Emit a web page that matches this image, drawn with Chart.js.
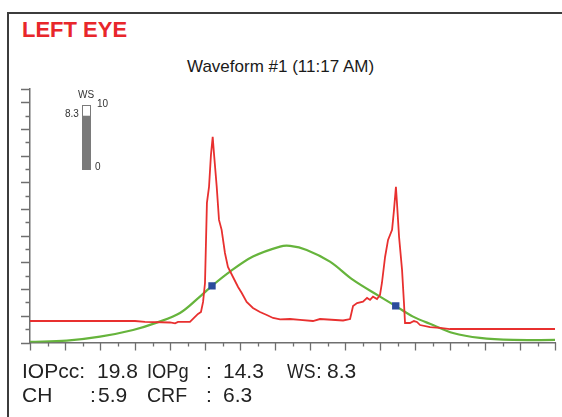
<!doctype html>
<html><head><meta charset="utf-8">
<title>Left eye waveform</title>
<script src="https://cdn.jsdelivr.net/npm/chart.js@4.4.0/dist/chart.umd.min.js"></script>
<style>
  *{box-sizing:border-box}
  body{margin:0;width:562px;height:417px;overflow:hidden;background:#fff;position:relative;
       font-family:"Liberation Sans",Arial,Helvetica,sans-serif;color:#222}
  .frame{position:absolute;left:7px;top:12px;width:600px;height:500px;border-top:2px solid #3c3c3c;border-left:2px solid #3c3c3c}
  .t{position:absolute;line-height:1;white-space:pre;transform-origin:0 50%}
  .eye{left:22px;top:19px;font-size:22px;font-weight:bold;color:#e8262b}
  .title{left:187px;top:58px;font-size:17px;color:#1a1a1a}
  .stat{font-size:21px;color:#222}
  .g{font-size:10px;color:#333}
  #main{position:absolute;left:0;top:0}
  #gauge{position:absolute;left:82px;top:105px}
</style></head><body>
<div class="frame"></div>
<div class="t eye">LEFT EYE</div>
<div class="t title">Waveform #1 (11:17 AM)</div>

<canvas id="main" width="562" height="417"></canvas>

<!-- WS gauge -->
<div class="t g" style="left:78px;top:90px">WS</div>
<div class="t g" style="left:97px;top:99px">10</div>
<div class="t g" style="left:65px;top:109px">8.3</div>
<div class="t g" style="left:95px;top:162px">0</div>
<canvas id="gauge" width="9" height="65"></canvas>

<!-- measurements -->
<div class="t stat" style="left:22px;top:360px">IOPcc:</div>
<div class="t stat" style="left:97px;top:360px">19.8</div>
<div class="t stat" style="left:147px;top:360px;transform:scaleX(.87)">IOPg</div>
<div class="t stat" style="left:206px;top:360px">:</div>
<div class="t stat" style="left:223px;top:360px">14.3</div>
<div class="t stat" style="left:287px;top:360px;transform:scaleX(.84)">WS</div>
<div class="t stat" style="left:316px;top:360px">:</div>
<div class="t stat" style="left:327px;top:360px">8.3</div>
<div class="t stat" style="left:22px;top:384px">CH</div>
<div class="t stat" style="left:90px;top:384px">:</div>
<div class="t stat" style="left:98px;top:384px">5.9</div>
<div class="t stat" style="left:147px;top:384px;transform:scaleX(.93)">CRF</div>
<div class="t stat" style="left:206px;top:384px">:</div>
<div class="t stat" style="left:223px;top:384px">6.3</div>

<script>
// applanation signal (red)
const signalT = [0, 60, 65.7, 80, 82.9, 84.6, 91.4, 93.7, 96, 97.7, 98.9, 100, 101.1, 102.3, 103.4, 104.4,
  105.1, 106.7, 108, 109.5, 111.4, 113.1, 116, 118.9, 121, 123.8, 127.4, 131.4, 135.3, 138.9, 142.9,
  148.6, 154.3, 161.7, 165.7, 178.9, 182.9, 184.6, 186.9, 190.3, 192.6, 194.3, 196, 198.3, 200,
  201.1, 202.9, 204.6, 206.9, 208, 209.1, 209.7, 210.9, 212.6, 213.7, 214.3, 217.1, 219.4, 221.1,
  222.9, 228.6, 234.3, 240, 300];
const signalV = [16.1, 16.1, 15.4, 15, 14.3, 15.4, 15.4, 18.4, 21.4, 22.9, 30.4, 44.6, 104.6, 116.6, 140.6, 154.1,
  142.1, 116.6, 91.9, 84.4, 67.1, 56.6, 49.1, 41.6, 37.1, 30.4, 25.9, 22.9, 20.6, 18.4, 17.3,
  17.6, 16.9, 16.1, 17.6, 16.5, 17.6, 27.4, 29.6, 30.6, 33.4, 31.9, 34.4, 32.6, 35.6,
  44.6, 64.1, 76.9, 84.4, 99.4, 116.6, 104.6, 79.1, 54.4, 29.6, 14.6, 14.6, 16.1, 15.4,
  13.1, 11.6, 10.9, 10.1, 10.1];

// air pulse pressure (green)
const pulseT = [0, 21, 40, 58.9, 72.4, 85.7, 97.1, 104.6, 114.3, 127.4, 142.9, 148.6, 158.1, 171.4,
  184.6, 200, 209.5, 218.9, 230.3, 241.7, 257.1, 276, 300];
const pulseV = [0.4, 1.4, 4.4, 9.4, 14.9, 22.1, 34.4, 43.1, 53.1, 64.4, 71.9, 72.4, 69.4, 60.6,
  46.9, 34.4, 26.9, 19.4, 13.1, 7.1, 3.4, 1.9, 1.9];

// applanation points (blue)
const applT = [104, 209];
const applV = [42.4, 27.4];

// waveform score gauge
const wsScore = 8.3;
const wsMax = 10;

const X_MAX = 300, Y_MAX = 190, STEP = 10, MAJOR = 20;
const AXIS = '#6f6f6f';

const pts = (xs, ys) => xs.map((x, i) => ({ x, y: ys[i] }));

// tick marks: long on majors, short between
const tickMarks = {
  id: 'tickMarks',
  afterDraw(chart) {
    const { ctx, scales: { x, y } } = chart;
    ctx.save();
    ctx.strokeStyle = AXIS;
    ctx.lineWidth = 1.3;
    ctx.beginPath();
    for (const t of x.ticks) {
      const px = Math.round(x.getPixelForValue(t.value)) + 0.5;
      const len = t.value % MAJOR === 0 ? 8 : 4;
      ctx.moveTo(px, x.top);
      ctx.lineTo(px, x.top + len);
    }
    for (const t of y.ticks) {
      const py = Math.round(y.getPixelForValue(t.value)) + 0.5;
      const len = (t.value % MAJOR === 0 || t.value === Y_MAX) ? 9 : 4.5;
      ctx.moveTo(y.right, py);
      ctx.lineTo(y.right - len, py);
    }
    ctx.stroke();
    ctx.restore();
  }
};

const hiddenGrid = { display: false, drawTicks: false };

new Chart(document.getElementById('main'), {
  type: 'line',
  data: {
    datasets: [
      { data: pts(applT, applV), showLine: false, pointStyle: 'rect', pointRadius: 5.2,
        pointBackgroundColor: '#2b4c9c', pointBorderWidth: 0, order: 0 },
      { data: pts(signalT, signalV), borderColor: '#e8302f', borderWidth: 1.8, pointRadius: 0, tension: 0, order: 1 },
      { data: pts(pulseT, pulseV), borderColor: '#66b43c', borderWidth: 2.2, pointRadius: 0, tension: 0.35, order: 2 }
    ]
  },
  options: {
    responsive: false,
    animation: false,
    layout: { padding: { left: 30, top: 89, right: 7, bottom: 74.5 } },
    plugins: { legend: { display: false }, tooltip: { enabled: false } },
    scales: {
      x: { type: 'linear', min: 0, max: X_MAX, grid: hiddenGrid,
           ticks: { display: false, stepSize: STEP, maxTicksLimit: 40 },
           border: { display: true, color: AXIS, width: 1.5 } },
      y: { type: 'linear', min: 0, max: Y_MAX, grid: hiddenGrid,
           ticks: { display: false, stepSize: STEP, maxTicksLimit: 40 },
           border: { display: true, color: AXIS, width: 1.5 } }
    }
  },
  plugins: [tickMarks]
});

// gauge outline around the whole 0..10 track
const gaugeFrame = {
  id: 'gaugeFrame',
  beforeDatasetsDraw(chart) {
    const { ctx, chartArea: a } = chart;
    ctx.save();
    ctx.strokeStyle = '#7a7a7a';
    ctx.lineWidth = 1;
    ctx.strokeRect(a.left + 0.5, a.top + 0.5, a.right - a.left - 1, a.bottom - a.top - 1);
    ctx.restore();
  }
};

new Chart(document.getElementById('gauge'), {
  type: 'bar',
  data: { labels: ['WS'], datasets: [{ data: [wsScore], backgroundColor: '#7a7a7a',
    categoryPercentage: 1, barPercentage: 1, borderWidth: 0 }] },
  options: {
    responsive: false,
    animation: false,
    layout: { padding: 0 },
    plugins: { legend: { display: false }, tooltip: { enabled: false } },
    scales: { x: { display: false }, y: { display: false, min: 0, max: wsMax } }
  },
  plugins: [gaugeFrame]
});
</script>
</body></html>
